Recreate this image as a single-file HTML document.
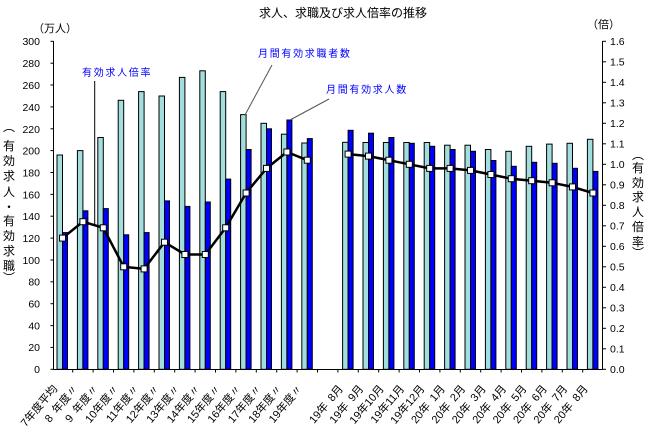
<!DOCTYPE html>
<html><head><meta charset="utf-8"><style>
html,body{margin:0;padding:0;background:#fff;}
svg{display:block;}
text{font-family:"Liberation Sans","Noto Sans CJK JP",sans-serif;}
.mono{font-family:"Liberation Mono","Noto Sans CJK JP",monospace;font-size:10.5px;fill:#000;}
.cj{font-family:"Noto Sans CJK JP",sans-serif;}
.ann{font-family:"Noto Sans CJK JP",sans-serif;font-size:10px;fill:#0000ff;letter-spacing:1.7px;}
.xl{font-family:"Liberation Sans","Noto Sans CJK JP",sans-serif;font-size:11px;fill:#000;}
</style></head><body>
<svg width="652" height="434" viewBox="0 0 652 434" xmlns="http://www.w3.org/2000/svg">
<rect width="652" height="434" fill="#fff"/>
<!-- title -->
<text x="343" y="17" class="cj" font-size="12" text-anchor="middle" fill="#000">求人、求職及び求人倍率の推移</text>
<text x="33" y="32" class="cj" font-size="11" fill="#000">（万人）</text>
<text x="587" y="28" class="cj" font-size="11" fill="#000">（倍）</text>

<!-- axes -->
<g stroke="#000" stroke-width="1" fill="none">
<line x1="53.5" y1="41" x2="53.5" y2="369.5"/>
<line x1="602.5" y1="41" x2="602.5" y2="369.5"/>
<line x1="53.5" y1="369.5" x2="602.5" y2="369.5"/>
</g>
<g stroke="#000" stroke-width="1">
<line x1="50.5" y1="41.3" x2="53.5" y2="41.3"/>
<line x1="50.5" y1="63.2" x2="53.5" y2="63.2"/>
<line x1="50.5" y1="85.0" x2="53.5" y2="85.0"/>
<line x1="50.5" y1="106.9" x2="53.5" y2="106.9"/>
<line x1="50.5" y1="128.8" x2="53.5" y2="128.8"/>
<line x1="50.5" y1="150.6" x2="53.5" y2="150.6"/>
<line x1="50.5" y1="172.5" x2="53.5" y2="172.5"/>
<line x1="50.5" y1="194.4" x2="53.5" y2="194.4"/>
<line x1="50.5" y1="216.2" x2="53.5" y2="216.2"/>
<line x1="50.5" y1="238.1" x2="53.5" y2="238.1"/>
<line x1="50.5" y1="260.0" x2="53.5" y2="260.0"/>
<line x1="50.5" y1="281.8" x2="53.5" y2="281.8"/>
<line x1="50.5" y1="303.7" x2="53.5" y2="303.7"/>
<line x1="50.5" y1="325.6" x2="53.5" y2="325.6"/>
<line x1="50.5" y1="347.4" x2="53.5" y2="347.4"/>
<line x1="50.5" y1="369.3" x2="53.5" y2="369.3"/>
</g>
<g class="mono" text-anchor="end">
<text x="40" y="45">300</text>
<text x="40" y="67">280</text>
<text x="40" y="89">260</text>
<text x="40" y="111">240</text>
<text x="40" y="133">220</text>
<text x="40" y="154.5">200</text>
<text x="40" y="176.5">180</text>
<text x="40" y="198.5">160</text>
<text x="40" y="220">140</text>
<text x="40" y="242">120</text>
<text x="40" y="264">100</text>
<text x="40" y="285.5">80</text>
<text x="40" y="307.5">60</text>
<text x="40" y="329.5">40</text>
<text x="40" y="351">20</text>
<text x="40" y="373">0</text>
</g>
<!-- right axis ticks -->
<g stroke="#000" stroke-width="1">
<line x1="602.5" y1="41.3" x2="606" y2="41.3"/>
<line x1="602.5" y1="61.8" x2="606" y2="61.8"/>
<line x1="602.5" y1="82.3" x2="606" y2="82.3"/>
<line x1="602.5" y1="102.8" x2="606" y2="102.8"/>
<line x1="602.5" y1="123.3" x2="606" y2="123.3"/>
<line x1="602.5" y1="143.8" x2="606" y2="143.8"/>
<line x1="602.5" y1="164.3" x2="606" y2="164.3"/>
<line x1="602.5" y1="184.8" x2="606" y2="184.8"/>
<line x1="602.5" y1="205.3" x2="606" y2="205.3"/>
<line x1="602.5" y1="225.8" x2="606" y2="225.8"/>
<line x1="602.5" y1="246.3" x2="606" y2="246.3"/>
<line x1="602.5" y1="266.8" x2="606" y2="266.8"/>
<line x1="602.5" y1="287.3" x2="606" y2="287.3"/>
<line x1="602.5" y1="307.8" x2="606" y2="307.8"/>
<line x1="602.5" y1="328.3" x2="606" y2="328.3"/>
<line x1="602.5" y1="348.8" x2="606" y2="348.8"/>
<line x1="602.5" y1="369.3" x2="606" y2="369.3"/>
</g>
<g class="mono">
<text x="610" y="45">1.6</text>
<text x="610" y="65.5">1.5</text>
<text x="610" y="86">1.4</text>
<text x="610" y="106.5">1.3</text>
<text x="610" y="127">1.2</text>
<text x="610" y="147.5">1.1</text>
<text x="610" y="168">1.0</text>
<text x="610" y="188.5">0.9</text>
<text x="610" y="209">0.8</text>
<text x="610" y="229.5">0.7</text>
<text x="610" y="250">0.6</text>
<text x="610" y="270.5">0.5</text>
<text x="610" y="291">0.4</text>
<text x="610" y="311.5">0.3</text>
<text x="610" y="332">0.2</text>
<text x="610" y="352.5">0.1</text>
<text x="610" y="373">0.0</text>
</g>

<!-- vertical axis titles -->
<g class="cj" font-size="12" fill="#000" text-anchor="middle">
<text x="9" y="131">︵</text>
<text x="9" y="150">有</text>
<text x="9" y="165">効</text>
<text x="9" y="180">求</text>
<text x="9" y="196">人</text>
<text x="9" y="211">・</text>
<text x="9" y="225">有</text>
<text x="9" y="240">効</text>
<text x="9" y="255">求</text>
<text x="9" y="270">職</text>
<text x="9" y="282">︶</text>

<text x="638" y="159">︵</text>
<text x="638" y="172">有</text>
<text x="638" y="187">効</text>
<text x="638" y="201">求</text>
<text x="638" y="216">人</text>
<text x="638" y="231">倍</text>
<text x="638" y="246">率</text>
<text x="638" y="257">︶</text>
</g>

<!-- x ticks -->
<g stroke="#000" stroke-width="1">
<line x1="72.7" y1="369.5" x2="72.7" y2="372.5"/>
<line x1="93.1" y1="369.5" x2="93.1" y2="372.5"/>
<line x1="113.5" y1="369.5" x2="113.5" y2="372.5"/>
<line x1="133.9" y1="369.5" x2="133.9" y2="372.5"/>
<line x1="154.3" y1="369.5" x2="154.3" y2="372.5"/>
<line x1="174.7" y1="369.5" x2="174.7" y2="372.5"/>
<line x1="195.1" y1="369.5" x2="195.1" y2="372.5"/>
<line x1="215.5" y1="369.5" x2="215.5" y2="372.5"/>
<line x1="235.9" y1="369.5" x2="235.9" y2="372.5"/>
<line x1="256.3" y1="369.5" x2="256.3" y2="372.5"/>
<line x1="276.7" y1="369.5" x2="276.7" y2="372.5"/>
<line x1="297.1" y1="369.5" x2="297.1" y2="372.5"/>
<line x1="317.5" y1="369.5" x2="317.5" y2="372.5"/>
<line x1="337.9" y1="369.5" x2="337.9" y2="372.5"/>
<line x1="358.3" y1="369.5" x2="358.3" y2="372.5"/>
<line x1="378.7" y1="369.5" x2="378.7" y2="372.5"/>
<line x1="399.1" y1="369.5" x2="399.1" y2="372.5"/>
<line x1="419.5" y1="369.5" x2="419.5" y2="372.5"/>
<line x1="439.9" y1="369.5" x2="439.9" y2="372.5"/>
<line x1="460.3" y1="369.5" x2="460.3" y2="372.5"/>
<line x1="480.7" y1="369.5" x2="480.7" y2="372.5"/>
<line x1="501.1" y1="369.5" x2="501.1" y2="372.5"/>
<line x1="521.5" y1="369.5" x2="521.5" y2="372.5"/>
<line x1="541.9" y1="369.5" x2="541.9" y2="372.5"/>
<line x1="562.3" y1="369.5" x2="562.3" y2="372.5"/>
<line x1="582.7" y1="369.5" x2="582.7" y2="372.5"/>
</g>

<!-- bars: light (求職者) -->
<g fill="#a3dede" stroke="#000" stroke-width="1">
<rect x="57" y="155.0" width="5.5" height="214.3"/>
<rect x="77.4" y="150.6" width="5.5" height="218.7"/>
<rect x="97.8" y="137.5" width="5.5" height="231.8"/>
<rect x="118.2" y="100.3" width="5.5" height="269.0"/>
<rect x="138.6" y="91.6" width="5.5" height="277.7"/>
<rect x="159" y="96.0" width="5.5" height="273.3"/>
<rect x="179.4" y="77.4" width="5.5" height="291.9"/>
<rect x="199.8" y="70.8" width="5.5" height="298.5"/>
<rect x="220.2" y="91.6" width="5.5" height="277.7"/>
<rect x="240.6" y="114.6" width="5.5" height="254.7"/>
<rect x="261" y="123.3" width="5.5" height="246.0"/>
<rect x="281.4" y="134.2" width="5.5" height="235.1"/>
<rect x="301.8" y="143.0" width="5.5" height="226.3"/>
<rect x="342.6" y="142.3" width="5.5" height="227.0"/>
<rect x="363" y="142.5" width="5.5" height="226.8"/>
<rect x="383.4" y="142.5" width="5.5" height="226.8"/>
<rect x="403.8" y="142.5" width="5.5" height="226.8"/>
<rect x="424.2" y="142.5" width="5.5" height="226.8"/>
<rect x="444.6" y="145.2" width="5.5" height="224.1"/>
<rect x="465" y="145.2" width="5.5" height="224.1"/>
<rect x="485.4" y="149.5" width="5.5" height="219.8"/>
<rect x="505.8" y="151.3" width="5.5" height="218.0"/>
<rect x="526.2" y="146.3" width="5.5" height="223.0"/>
<rect x="546.6" y="144.1" width="5.5" height="225.2"/>
<rect x="567" y="143.3" width="5.5" height="226.0"/>
<rect x="587.4" y="139.3" width="5.5" height="230.0"/>
</g>
<!-- bars: blue (求人) -->
<g fill="#0000ff" stroke="#000" stroke-width="1">
<rect x="62.5" y="232.6" width="5" height="136.7"/>
<rect x="82.9" y="210.8" width="5" height="158.5"/>
<rect x="103.3" y="208.6" width="5" height="160.7"/>
<rect x="123.7" y="234.8" width="5" height="134.5"/>
<rect x="144.1" y="232.6" width="5" height="136.7"/>
<rect x="164.5" y="200.9" width="5" height="168.4"/>
<rect x="184.9" y="206.4" width="5" height="162.9"/>
<rect x="205.3" y="202.0" width="5" height="167.3"/>
<rect x="225.7" y="179.1" width="5" height="190.2"/>
<rect x="246.1" y="149.5" width="5" height="219.8"/>
<rect x="266.5" y="128.8" width="5" height="240.5"/>
<rect x="286.9" y="120.0" width="5" height="249.3"/>
<rect x="307.3" y="138.6" width="5" height="230.7"/>
<rect x="348.1" y="130.3" width="5" height="239.0"/>
<rect x="368.5" y="133.2" width="5" height="236.1"/>
<rect x="388.9" y="137.5" width="5" height="231.8"/>
<rect x="409.3" y="143.3" width="5" height="226.0"/>
<rect x="429.7" y="146.3" width="5" height="223.0"/>
<rect x="450.1" y="149.5" width="5" height="219.8"/>
<rect x="470.5" y="151.3" width="5" height="218.0"/>
<rect x="490.9" y="160.5" width="5" height="208.8"/>
<rect x="511.3" y="166.3" width="5" height="203.0"/>
<rect x="531.7" y="162.3" width="5" height="207.0"/>
<rect x="552.1" y="163.3" width="5" height="206.0"/>
<rect x="572.5" y="168.3" width="5" height="201.0"/>
<rect x="592.9" y="171.4" width="5" height="197.9"/>
</g>

<!-- ratio line -->
<g fill="none" stroke="#000" stroke-width="2.5" stroke-linejoin="round">
<polyline points="62.5,238.1 82.9,221.7 103.3,227.8 123.7,266.8 144.1,268.9 164.5,242.2 184.9,254.5 205.3,254.5 225.7,227.8 246.1,193.0 266.5,168.4 286.9,152.0 307.3,160.2"/>
<polyline points="348.1,154.1 368.5,156.1 388.9,160.2 409.3,164.3 429.7,168.4 450.1,168.4 470.5,170.4 490.9,174.5 511.3,178.7 531.7,180.7 552.1,182.8 572.5,186.9 592.9,193.0"/>
</g>
<g fill="#fff" stroke="#000" stroke-width="1">
<rect x="59.5" y="235.1" width="6" height="6"/>
<rect x="79.9" y="218.7" width="6" height="6"/>
<rect x="100.3" y="224.8" width="6" height="6"/>
<rect x="120.7" y="263.8" width="6" height="6"/>
<rect x="141.1" y="265.9" width="6" height="6"/>
<rect x="161.5" y="239.2" width="6" height="6"/>
<rect x="181.9" y="251.5" width="6" height="6"/>
<rect x="202.3" y="251.5" width="6" height="6"/>
<rect x="222.7" y="224.8" width="6" height="6"/>
<rect x="243.1" y="190.0" width="6" height="6"/>
<rect x="263.5" y="165.4" width="6" height="6"/>
<rect x="283.9" y="149.0" width="6" height="6"/>
<rect x="304.3" y="157.2" width="6" height="6"/>
<rect x="345.1" y="151.1" width="6" height="6"/>
<rect x="365.5" y="153.1" width="6" height="6"/>
<rect x="385.9" y="157.2" width="6" height="6"/>
<rect x="406.3" y="161.3" width="6" height="6"/>
<rect x="426.7" y="165.4" width="6" height="6"/>
<rect x="447.1" y="165.4" width="6" height="6"/>
<rect x="467.5" y="167.4" width="6" height="6"/>
<rect x="487.9" y="171.5" width="6" height="6"/>
<rect x="508.3" y="175.7" width="6" height="6"/>
<rect x="528.7" y="177.7" width="6" height="6"/>
<rect x="549.1" y="179.8" width="6" height="6"/>
<rect x="569.5" y="183.9" width="6" height="6"/>
<rect x="589.9" y="190.0" width="6" height="6"/>
</g>

<!-- annotations -->
<text x="82" y="76" class="ann">有効求人倍率</text>
<line x1="94.7" y1="81" x2="94.7" y2="225" stroke="#000" stroke-width="1"/>
<text x="258" y="57" class="ann">月間有効求職者数</text>
<line x1="272" y1="65" x2="245" y2="115" stroke="#555" stroke-width="1"/>
<text x="326" y="93" class="ann">月間有効求人数</text>
<line x1="329" y1="99" x2="290" y2="120" stroke="#555" stroke-width="1"/>

<!-- x labels -->
<g class="xl" text-anchor="end">
<text transform="translate(58,389) rotate(-50)">7年度平均</text>
<text transform="translate(78.4,389) rotate(-50)">8&#x2002;年度〃</text>
<text transform="translate(98.8,389) rotate(-50)">9&#x2002;年度〃</text>
<text transform="translate(119.2,389) rotate(-50)">10年度〃</text>
<text transform="translate(139.6,389) rotate(-50)">11年度〃</text>
<text transform="translate(160,389) rotate(-50)">12年度〃</text>
<text transform="translate(180.4,389) rotate(-50)">13年度〃</text>
<text transform="translate(200.8,389) rotate(-50)">14年度〃</text>
<text transform="translate(221.2,389) rotate(-50)">15年度〃</text>
<text transform="translate(241.6,389) rotate(-50)">16年度〃</text>
<text transform="translate(262,389) rotate(-50)">17年度〃</text>
<text transform="translate(282.4,389) rotate(-50)">18年度〃</text>
<text transform="translate(302.8,389) rotate(-50)">19年度〃</text>
<text transform="translate(343.6,389) rotate(-50)">19年&#x2002;8月</text>
<text transform="translate(364,389) rotate(-50)">19年&#x2002;9月</text>
<text transform="translate(384.4,389) rotate(-50)">19年10月</text>
<text transform="translate(404.8,389) rotate(-50)">19年11月</text>
<text transform="translate(425.2,389) rotate(-50)">19年12月</text>
<text transform="translate(445.6,389) rotate(-50)">20年&#x2002;1月</text>
<text transform="translate(466,389) rotate(-50)">20年&#x2002;2月</text>
<text transform="translate(486.4,389) rotate(-50)">20年&#x2002;3月</text>
<text transform="translate(506.8,389) rotate(-50)">20年&#x2002;4月</text>
<text transform="translate(527.2,389) rotate(-50)">20年&#x2002;5月</text>
<text transform="translate(547.6,389) rotate(-50)">20年&#x2002;6月</text>
<text transform="translate(568,389) rotate(-50)">20年&#x2002;7月</text>
<text transform="translate(588.4,389) rotate(-50)">20年&#x2002;8月</text>
</g>
</svg>
</body></html>
